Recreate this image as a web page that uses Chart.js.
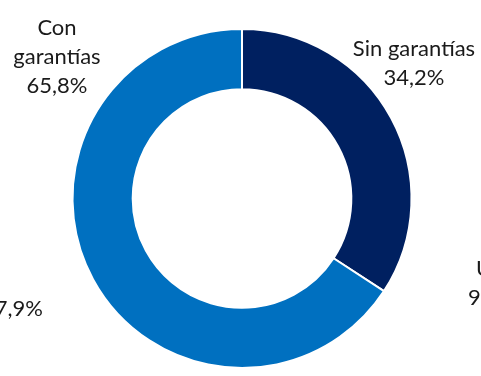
<!DOCTYPE html>
<html>
<head>
<meta charset="utf-8">
<script src="https://cdn.jsdelivr.net/npm/chart.js@4.4.1/dist/chart.umd.min.js"></script>
<style>
  html, body { margin: 0; padding: 0; background: #fff; }
  #wrap { width: 481px; height: 376px; }
</style>
</head>
<body>
<div id="wrap"><canvas id="grafico" width="481" height="376"></canvas></div>
<script>
// Datos del gráfico
const categorias = ['Sin\u00a0garantías', 'Con garantías'];
const valores = [34.2, 65.8];
const colores = ['#002060', '#0070C0'];

// Fragmentos de texto de los paneles vecinos (recortados en la imagen)
const textosVecinos = [
  { texto: 'U', x: 476, y: 276, align: 'left' },
  { texto: '97,9%', x: 468, y: 305, align: 'left' },
  { texto: '7,9%', x: 43, y: 316, align: 'right' }
];

const fuente = '22px Lato, "Open Sans", sans-serif';

// Etiquetas fuera del anillo
const etiquetasPlugin = {
  id: 'etiquetas',
  afterDraw(chart) {
    const ctx = chart.ctx;
    ctx.save();
    ctx.font = fuente;
    ctx.fillStyle = '#1a1a1a';
    ctx.textBaseline = 'alphabetic';
    ctx.textAlign = 'center';

    const fmt = v => v.toFixed(1).replace('.', ',') + '%';

    // Sin garantías (derecha arriba)
    ctx.fillText('Sin garantías', 414, 56);
    ctx.fillText(fmt(valores[0]), 414, 85);

    // Con garantías (izquierda arriba)
    ctx.fillText('Con', 57, 35);
    ctx.fillText('garantías', 57, 64);
    ctx.fillText(fmt(valores[1]), 57, 93);

    textosVecinos.forEach(t => {
      ctx.textAlign = t.align;
      ctx.fillText(t.texto, t.x, t.y);
    });
    ctx.restore();
  }
};

new Chart(document.getElementById('grafico').getContext('2d'), {
  type: 'doughnut',
  data: {
    labels: categorias,
    datasets: [{
      data: valores,
      backgroundColor: colores,
      borderColor: '#ffffff',
      borderWidth: 2
    }]
  },
  options: {
    responsive: false,
    animation: false,
    cutout: '64.5%',
    layout: { padding: { top: 28, bottom: 7, left: 3, right: 0 } },
    plugins: {
      legend: { display: false },
      tooltip: { enabled: false }
    }
  },
  plugins: [etiquetasPlugin]
});
</script>
</body>
</html>
